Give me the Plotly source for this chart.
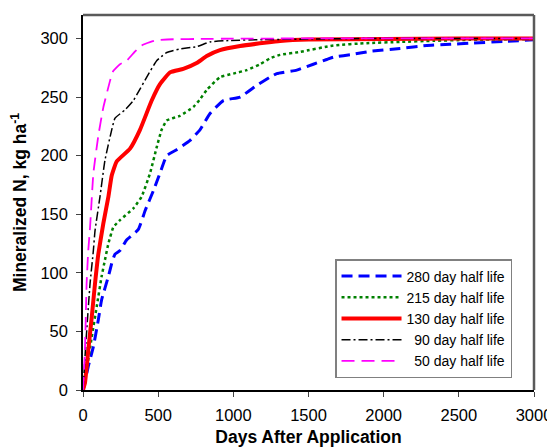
import plotly.graph_objects as go

# ---- data ----
series_names = ["280 day half life", "215 day half life", "130 day half life",
                "\u00a0\u00a090 day half life", "\u00a0\u00a050 day half life"]

days_280 = [0, 7, 35, 69, 102, 124, 169, 191, 213, 246, 290, 368, 413, 468, 512, 557, 623, 712, 778, 845,
            934, 1045, 1156, 1244, 1289, 1422, 1532, 1621, 1665, 1798, 1910, 2109, 2287, 2442, 2575, 2797, 3000]
n_280 = [0, 3, 20, 37, 60, 77, 97, 108, 116, 119, 128, 137, 153, 170, 185, 200, 205, 213, 222, 236,
         247, 250, 260, 267, 270, 273, 278, 282, 284, 286.5, 289, 291.5, 294, 295, 296, 297.4, 298.8]

days_215 = [0, 24, 58, 91, 124, 146, 169, 202, 246, 335, 390, 446, 490, 523, 557, 645, 734, 778, 823,
            911, 1000, 1089, 1178, 1244, 1311, 1444, 1665, 1887, 2109, 2331, 2575, 3000]
n_215 = [0, 17, 45, 71, 97, 111, 125, 139, 145, 155, 165, 185, 207, 222, 230, 234, 241.5, 248, 256,
         267, 270, 273, 278, 283, 286, 288.5, 294, 296, 297, 298, 298.8, 299.5]

days_130 = [0, 13, 35, 58, 80, 102, 135, 169, 191, 224, 313, 379, 457, 512, 579, 667, 756, 823, 911,
            1045, 1222, 1311, 1500, 2000, 2500, 3000]
n_130 = [0, 6, 34, 62, 91, 116, 142, 165, 183, 195, 206, 222, 247, 261, 271, 274, 279, 285, 290,
         293.5, 296.5, 297.8, 299, 299.6, 300, 300]

days_90 = [0, 20, 47, 69, 80, 113, 146, 191, 213, 279, 335, 380, 424, 490, 557, 645, 756, 845, 978,
           1200, 1500, 2000, 2500, 3000]
n_90 = [0, 42, 91, 119, 136, 165, 196, 222, 232, 239, 247, 257, 267, 281, 288, 291, 293, 297, 298.3,
        299, 299.5, 300, 300, 300]

days_50 = [0, 13, 24, 35, 47, 69, 102, 135, 180, 200, 246, 290, 340, 390, 450, 490, 600, 800, 1000,
           1500, 2000, 2500, 3000]
n_50 = [0, 34, 91, 119, 139, 185, 217, 241, 264, 272, 278, 281, 288, 294, 297, 298.5, 299.3, 299.6,
        299.8, 300, 300, 300, 300]

x_ticks = [0, 500, 1000, 1500, 2000, 2500, 3000]
y_ticks = [0, 50, 100, 150, 200, 250, 300]

# ---- styles ----
styles = [
    dict(color="#0000FF", width=3, dash="11px,6px"),
    dict(color="#008000", width=2.5, dash="dot"),
    dict(color="#FF0000", width=4, dash="solid"),
    dict(color="#000000", width=1.5, dash="9px,3px,2px,3px"),
    dict(color="#FF00FF", width=1.8, dash="13px,7px"),
]

xs = [days_280, days_215, days_130, days_90, days_50]
ys = [n_280, n_215, n_130, n_90, n_50]

fig = go.Figure()
for name, x, y, st in zip(series_names, xs, ys, styles):
    fig.add_trace(go.Scatter(x=x, y=y, mode="lines", name=name,
                             line=dict(color=st["color"], width=st["width"], dash=st["dash"],
                                       shape="spline", smoothing=0.4)))

font_family = "Arial, Liberation Sans, sans-serif"

# the page places the figure 8px in from the top-left corner (default body margin)
fig.update_layout(
    width=547, height=439,
    margin=dict(l=75, r=21, t=7, b=57),
    paper_bgcolor="white", plot_bgcolor="white",
    font=dict(family=font_family, color="black"),
    showlegend=True,
    legend=dict(x=0.5588, y=0.032, xanchor="left", yanchor="bottom",
                bgcolor="white", bordercolor="#808080", borderwidth=1.5,
                font=dict(size=14, family=font_family), itemwidth=60,
                tracegroupgap=0),
    xaxis=dict(range=[0, 3000], tickvals=x_ticks, ticks="outside", ticklen=5,
               showline=True, linecolor="black", linewidth=1.5, showgrid=False, zeroline=False,
               tickfont=dict(size=16.5), ticklabelstandoff=4, automargin=False,
               title=dict(text="<b>Days After Application</b>", font=dict(size=17.5), standoff=8)),
    yaxis=dict(range=[0, 320], tickvals=y_ticks, ticks="outside", ticklen=5,
               showline=True, linecolor="black", linewidth=1.5, showgrid=False, zeroline=False,
               tickfont=dict(size=16.5), ticklabelstandoff=5, automargin=False,
               title=dict(text="<b>Mineralized N, kg ha<sup>-1</sup></b>", font=dict(size=17.5), standoff=10)),
    shapes=[
        dict(type="line", xref="paper", yref="paper", x0=0, x1=1, y0=1, y1=1,
             line=dict(color="#5a5a5a", width=2.5)),
        dict(type="line", xref="paper", yref="paper", x0=1, x1=1, y0=0, y1=1,
             line=dict(color="#5a5a5a", width=2.5)),
    ],
)

fig.write_html("out.html")
